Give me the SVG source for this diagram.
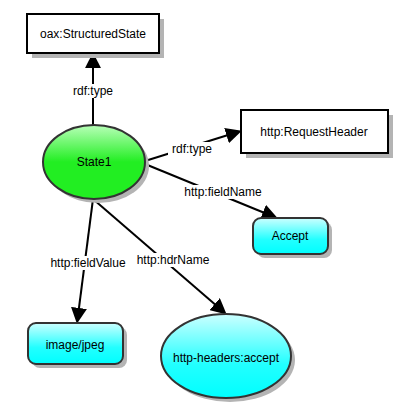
<svg xmlns="http://www.w3.org/2000/svg" width="407" height="419" viewBox="0 0 407 419">
<style>
text{font-family:"Liberation Sans",Arial,sans-serif;font-size:12px;fill:#000;text-anchor:middle}
.shadow{fill:#b4b4b4}
.box{fill:#fff;stroke:#000;stroke-width:2}
.edge{stroke:#000;stroke-width:2;fill:none;marker-end:url(#arr)}
.lbl{fill:#fff}
</style>
<defs>
<marker id="arr" markerUnits="userSpaceOnUse" markerWidth="16" markerHeight="16" viewBox="0 0 14 14" refX="8" refY="7" orient="auto">
<path d="M0,0 L14,7 L0,14 z" fill="#000"/>
</marker>
<linearGradient id="green" x1="0" y1="0" x2="0" y2="1">
<stop offset="0" stop-color="#b8ffb8"/>
<stop offset="0.5" stop-color="#22ee22"/>
<stop offset="1" stop-color="#22ee22"/>
</linearGradient>
<linearGradient id="cyan" x1="0" y1="0" x2="0" y2="1">
<stop offset="0" stop-color="#ccffff"/>
<stop offset="0.6" stop-color="#22ffff"/>
<stop offset="1" stop-color="#00ffff"/>
</linearGradient>
</defs>
<rect width="407" height="419" fill="#fff"/>
<g id="connectors">
<line class="edge" x1="93" y1="125" x2="93" y2="59"/>
<line class="edge" x1="145" y1="161" x2="235.3" y2="132.8"/>
<line class="edge" x1="145" y1="164" x2="271.4" y2="215.7"/>
<line class="edge" x1="93" y1="199" x2="77.8" y2="317"/>
<line class="edge" x1="93" y1="199" x2="221.5" y2="310.1"/>
<rect class="lbl" x="69" y="84" width="48" height="14"/>
<text x="93" y="95">rdf:type</text>
<rect class="lbl" x="168" y="142" width="48" height="14"/>
<text x="192" y="153">rdf:type</text>
<rect class="lbl" x="183" y="185" width="80" height="14"/>
<text x="223" y="196">http:fieldName</text>
<rect class="lbl" x="50" y="256" width="76" height="14"/>
<text x="88" y="267">http:fieldValue</text>
<rect class="lbl" x="136" y="253" width="74" height="14"/>
<text x="173" y="264">http:hdrName</text>
</g>
<g id="oax-StructuredState">
<rect class="shadow" x="32" y="19" width="132" height="39"/>
<rect class="box" x="27" y="14" width="132" height="39"/>
<text x="93" y="38">oax:StructuredState</text>
</g>
<g id="State1">
<ellipse class="shadow" cx="98" cy="166" rx="51" ry="37"/>
<ellipse cx="94" cy="162" rx="51" ry="37" fill="url(#green)" stroke="#333" stroke-width="2"/>
<text x="94" y="166">State1</text>
</g>
<g id="http-RequestHeader">
<rect class="shadow" x="246" y="115" width="147" height="43"/>
<rect class="box" x="241" y="110" width="147" height="43"/>
<text x="314" y="136">http:RequestHeader</text>
</g>
<g id="Accept">
<rect class="shadow" x="257" y="222" width="75" height="36" rx="8"/>
<rect x="253" y="218" width="75" height="36" rx="8" fill="url(#cyan)" stroke="#333" stroke-width="2"/>
<text x="290" y="240">Accept</text>
</g>
<g id="image-jpeg">
<rect class="shadow" x="32" y="327" width="95" height="41" rx="8"/>
<rect x="28" y="323" width="95" height="41" rx="8" fill="url(#cyan)" stroke="#333" stroke-width="2"/>
<text x="75" y="349">image/jpeg</text>
</g>
<g id="http-headers-accept">
<ellipse class="shadow" cx="230" cy="360" rx="65" ry="42"/>
<ellipse cx="226" cy="356" rx="65" ry="42" fill="url(#cyan)" stroke="#333" stroke-width="2"/>
<text x="226" y="362">http-headers:accept</text>
</g>
</svg>
